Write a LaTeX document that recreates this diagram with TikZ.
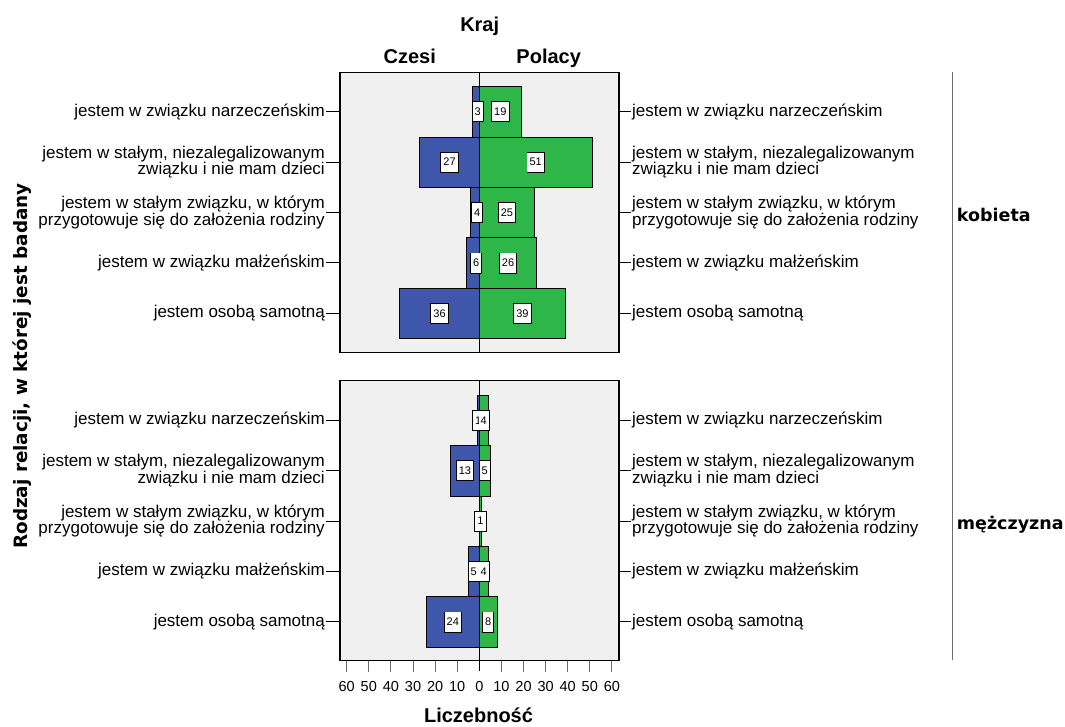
\documentclass[tikz,border=0pt]{standalone}
\usepackage{fontspec}
\setmainfont{Liberation Sans}
\newfontfamily\djvfont{DejaVu Sans}
\usepackage{tikz}
\definecolor{czblue}{RGB}{62,87,170}
\definecolor{plgreen}{RGB}{46,182,72}
\definecolor{panelgray}{RGB}{240,240,240}
\definecolor{tickgray}{RGB}{110,110,110}

\begin{document}
\begin{tikzpicture}[x=1pt, y=-1pt,
  rowlbl/.style={font=\fontsize{17}{16.5}\selectfont, inner sep=1pt},
  headlbl/.style={font=\bfseries\fontsize{20}{20}\selectfont, anchor=base},
  grouplbl/.style={font=\djvfont\bfseries\fontsize{17.5}{17.5}\selectfont, anchor=base west, inner sep=0pt},
  valframe/.style={draw, fill=white, line width=0.8pt, font=\fontsize{11}{11}\selectfont, minimum height=20pt, inner xsep=2.5pt, inner ysep=0pt},
  valfill/.style={fill=white, font=\fontsize{11}{11}\selectfont, minimum height=19.2pt, inner xsep=2.1pt, inner ysep=0pt},
  czbar/.style={fill=czblue, draw=black, line width=0.8pt},
  plbar/.style={fill=plgreen, draw=black, line width=0.8pt}]
\useasboundingbox (0,0) rectangle (1065,726);

% panels
\draw[fill=panelgray, line width=1.3pt] (340,72.7) rectangle (619,352.7);
\draw[fill=panelgray, line width=1.3pt] (340,380.7) rectangle (619,660.7);

% bars, kobieta
\foreach \c/\p [count=\i from 0] in {3/19, 27/51, 4/25, 6/26, 36/39} {
  \pgfmathsetmacro\yc{111.7+50.4*\i}
  \draw[czbar] (479.3-2.21*\c, \yc-25.2) rectangle (479.3, \yc+25.2);
  \draw[plbar] (479.3, \yc-25.2) rectangle (479.3+2.21*\p, \yc+25.2);
}
% bars, mezczyzna
\foreach \c/\p [count=\i from 0] in {1/4, 13/5, 0/1, 5/4, 24/8} {
  \pgfmathsetmacro\yc{420.3+50.4*\i}
  \ifnum\c>0 \draw[czbar] (479.3-2.21*\c, \yc-25.2) rectangle (479.3, \yc+25.2); \fi
  \draw[plbar] (479.3, \yc-25.2) rectangle (479.3+2.21*\p, \yc+25.2);
}

% zero line
\draw[line width=1.3pt] (479.3,72.7) -- (479.3,352.7);
\draw[line width=1.3pt] (479.3,380.7) -- (479.3,671);

% value boxes
\foreach \v/\x/\y in {3/-1.5/111.7, 27/-29.8/162.1, 4/-2/212.5, 6/-3/262.9, 36/-39.8/313.3,
    19/21/111.7, 51/56.4/162.1, 25/27.6/212.5, 26/28.7/262.9, 39/43.1/313.3,
    1/-1.1/420.3, 13/-14.4/470.7, 5/-5.5/571.5, 24/-26.5/621.9,
    4/4.4/420.3, 5/5.5/470.7, 1/1.1/521.1, 4/4.4/571.5, 8/8.8/621.9}
  \node[valframe] at (479.3+\x,\y) {\phantom{\v}};
\foreach \v/\x/\y [count=\n] in {3/-1.5/111.7, 27/-29.8/162.1, 4/-2/212.5, 6/-3/262.9, 36/-39.8/313.3,
    19/21/111.7, 51/56.4/162.1, 25/27.6/212.5, 26/28.7/262.9, 39/43.1/313.3,
    1/-1.1/420.3, 13/-14.4/470.7, 5/-5.5/571.5, 24/-26.5/621.9,
    4/4.4/420.3, 5/5.5/470.7, 1/1.1/521.1, 4/4.4/571.5, 8/8.8/621.9}
  \node[valfill] (val-\n) at (479.3+\x,\y) {\v};

% row labels and ticks
\foreach \txt [count=\i from 0] in {jestem w związku narzeczeńskim,
    {jestem w stałym, niezalegalizowanym\\związku i nie mam dzieci},
    {jestem w stałym związku, w którym\\przygotowuje się do założenia rodziny},
    jestem w związku małżeńskim, jestem osobą samotną} {
  \foreach \y/\g in {111.7/k, 420.3/m} {
    \pgfmathsetmacro\yc{\y+50.4*\i}
    \node[rowlbl, anchor=east, align=right] (left-\g-\i) at (326,\yc) {\txt};
    \node[rowlbl, anchor=west, align=left] (right-\g-\i) at (631,\yc) {\txt};
    \draw[line width=1pt] (left-\g-\i.east) -- ++(14,0);
    \draw[line width=1pt] (right-\g-\i.west) -- ++(-12,0);
  }
}

% bottom axis
\foreach \k in {1,...,6} {
  \draw[tickgray, line width=1pt] (479.3-22.1*\k,660.7) -- (479.3-22.1*\k,671.7);
  \draw[tickgray, line width=1pt] (479.3+22.1*\k,660.7) -- (479.3+22.1*\k,671.7);
  \pgfmathtruncatemacro\lab{10*\k}
  \node[font=\fontsize{14.5}{14.5}\selectfont, anchor=base] (tl-\k) at (479.3-22.1*\k,691) {\lab};
  \node[font=\fontsize{14.5}{14.5}\selectfont, anchor=base] (tr-\k) at (479.3+22.1*\k,691) {\lab};
}
\node[font=\fontsize{14.5}{14.5}\selectfont, anchor=base] (t0) at (479.3,691) {0};

% titles
\node[headlbl] (kraj) at (479.7,31.7) {Kraj};
\node[headlbl] (czesi) at (409.7,63.3) {Czesi};
\node[headlbl] (polacy) at (548.7,63.3) {Polacy};
\node[headlbl] (liczebnosc) at (478.5,722) {Liczebność};
\node[font=\djvfont\bfseries\fontsize{18.4}{18.4}\selectfont, rotate=90] (rodzaj) at (22,366) {Rodzaj relacji, w której jest badany};

% grouping by plec
\draw[tickgray, line width=1.3pt] (952.7,72) -- (952.7,660);
\node[grouplbl] (kobieta) at (956.7,221) {kobieta};
\node[grouplbl] (mezczyzna) at (956.7,529.3) {mężczyzna};
\end{tikzpicture}
\end{document}
